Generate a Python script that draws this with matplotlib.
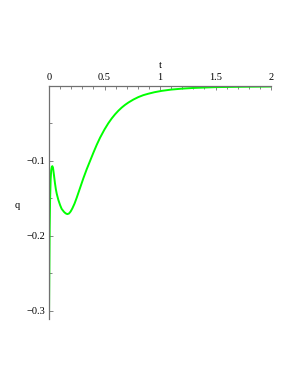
import matplotlib
matplotlib.use("Agg")
import matplotlib.pyplot as plt
from matplotlib.ticker import MultipleLocator

# ---------------- Data ---------------- #
t_vals = [0.000, 0.003, 0.006, 0.010, 0.015, 0.020, 0.025, 0.030, 0.036, 0.044,
          0.054, 0.062, 0.070, 0.084, 0.100, 0.114, 0.135, 0.150, 0.165, 0.180,
          0.195, 0.210, 0.230, 0.250, 0.280, 0.310, 0.340, 0.370, 0.400, 0.430,
          0.460, 0.500, 0.534, 0.565, 0.595, 0.625, 0.655, 0.685, 0.715, 0.760,
          0.805, 0.850, 0.895, 0.950, 1.015, 1.100, 1.200, 1.300, 1.500, 1.750,
          2.000]
q_vals = [-0.311, -0.250, -0.190, -0.150, -0.124, -0.112, -0.108, -0.107, -0.109, -0.118,
          -0.130, -0.138, -0.144, -0.152, -0.159, -0.164, -0.168, -0.170, -0.171, -0.1702,
          -0.1675, -0.1635, -0.157, -0.149, -0.136, -0.123, -0.111, -0.100, -0.089, -0.0785,
          -0.069, -0.058, -0.0498, -0.0433, -0.0378, -0.033, -0.0288, -0.0252, -0.0221, -0.0181,
          -0.0148, -0.0122, -0.0103, -0.0083, -0.0065, -0.0048, -0.0035, -0.0026, -0.0015, -0.0010,
          -0.0007]

x_ticks = [0, 0.5, 1, 1.5, 2]
x_tick_labels = ["0", "0.5", "1", "1.5", "2"]
y_ticks = [-0.1, -0.2, -0.3]
y_tick_labels = ["\u22120.1", "\u22120.2", "\u22120.3"]

# ---------------- Plot ---------------- #
fig = plt.figure(figsize=(2.95, 3.82), dpi=100)
ax = fig.add_axes([49 / 295, 1 - 319 / 382, 222 / 295, 233 / 382])

ax.plot(t_vals, q_vals, color="#00ff00", lw=1.4, solid_joinstyle="round")

ax.set_xlim(0, 2)
ax.set_ylim(-0.311, 0)

for side in ("right", "bottom"):
    ax.spines[side].set_visible(False)
for side in ("left", "top"):
    ax.spines[side].set_color("#707070")
    ax.spines[side].set_linewidth(0.9)

serif = "Liberation Serif"
ax.xaxis.tick_top()
ax.set_xticks(x_ticks)
ax.set_xticklabels(x_tick_labels, fontfamily=serif, fontsize=7.5)
ax.xaxis.set_minor_locator(MultipleLocator(0.1))
ax.set_yticks(y_ticks)
ax.set_yticklabels(y_tick_labels, fontfamily=serif, fontsize=7.5)
ax.yaxis.set_minor_locator(MultipleLocator(0.05))
ax.tick_params(which="both", direction="in", color="#707070", width=0.6)
ax.tick_params(which="major", length=3, pad=3)
ax.tick_params(which="minor", length=2)

fig.text(160 / 295, 1 - 66 / 382, "t", fontfamily=serif, fontsize=7.5,
         ha="center", va="center")
fig.text(17 / 295, 1 - 205 / 382, "q", fontfamily=serif, fontsize=7.5,
         ha="center", va="center")

fig.savefig("out.png", dpi=100)
